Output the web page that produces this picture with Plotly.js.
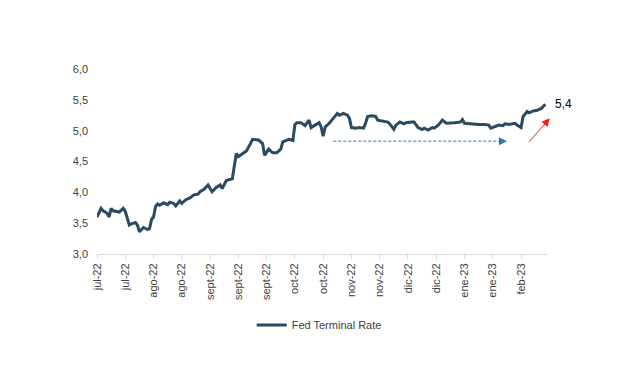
<!DOCTYPE html>
<html>
<head>
<meta charset="utf-8">
<script src="https://cdn.plot.ly/plotly-3.0.1.min.js"></script>
<style>html,body{margin:0;padding:0;background:#fff;}#chart{width:640px;height:380px;}</style>
</head>
<body>
<div id="chart"></div>
<script>
// Fed Terminal Rate
const dates = [
 "2022-07-08","2022-07-10","2022-07-11","2022-07-13","2022-07-14","2022-07-15","2022-07-16","2022-07-18","2022-07-19","2022-07-21",
 "2022-07-22","2022-07-24","2022-07-25","2022-07-27","2022-07-28","2022-07-29","2022-07-31","2022-08-02","2022-08-03","2022-08-04",
 "2022-08-05","2022-08-06","2022-08-07","2022-08-08","2022-08-10","2022-08-12","2022-08-13","2022-08-15","2022-08-16","2022-08-18",
 "2022-08-19","2022-08-21","2022-08-23","2022-08-25","2022-08-27","2022-08-28","2022-08-30","2022-09-01","2022-09-03","2022-09-05",
 "2022-09-07","2022-09-08","2022-09-10","2022-09-13","2022-09-14","2022-09-15","2022-09-16","2022-09-18","2022-09-20","2022-09-22",
 "2022-09-23","2022-09-26","2022-09-28","2022-09-29","2022-10-01","2022-10-03","2022-10-05","2022-10-07","2022-10-08","2022-10-11",
 "2022-10-13","2022-10-14","2022-10-15","2022-10-17","2022-10-19","2022-10-21","2022-10-22","2022-10-25","2022-10-26","2022-10-27",
 "2022-10-28","2022-10-29","2022-10-31","2022-11-02","2022-11-04","2022-11-05","2022-11-07","2022-11-09","2022-11-10","2022-11-11",
 "2022-11-13","2022-11-15","2022-11-17","2022-11-18","2022-11-19","2022-11-21","2022-11-23","2022-11-24","2022-11-26","2022-11-28",
 "2022-11-29","2022-11-30","2022-12-02","2022-12-03","2022-12-05","2022-12-07","2022-12-08","2022-12-11","2022-12-12","2022-12-14",
 "2022-12-16","2022-12-17","2022-12-19","2022-12-21","2022-12-22","2022-12-24","2022-12-26","2022-12-28","2022-12-30","2023-01-01",
 "2023-01-04","2023-01-05","2023-01-06","2023-01-09","2023-01-13","2023-01-16","2023-01-18","2023-01-19","2023-01-21","2023-01-23",
 "2023-01-25","2023-01-26","2023-01-28","2023-01-31","2023-02-01","2023-02-03","2023-02-04","2023-02-06","2023-02-07","2023-02-09",
 "2023-02-11","2023-02-13","2023-02-15"
];
const fedTerminalRate = [
 3.60,3.74,3.70,3.66,3.60,3.74,3.70,3.68,3.68,3.74,
 3.69,3.47,3.49,3.51,3.47,3.36,3.43,3.40,3.41,3.56,
 3.60,3.77,3.81,3.79,3.83,3.80,3.84,3.82,3.78,3.86,
 3.82,3.88,3.91,3.96,3.97,4.01,4.05,4.12,4.01,4.08,
 4.12,4.06,4.19,4.22,4.47,4.63,4.58,4.62,4.67,4.79,
 4.86,4.85,4.79,4.60,4.70,4.64,4.64,4.70,4.82,4.86,
 4.84,5.10,5.13,5.13,5.08,5.17,5.05,5.11,5.13,5.06,
 4.91,5.06,5.12,5.20,5.28,5.25,5.28,5.25,5.20,5.05,
 5.04,5.05,5.04,5.12,5.23,5.24,5.23,5.17,5.16,5.14,
 5.14,5.11,5.02,5.09,5.14,5.11,5.13,5.14,5.14,5.05,
 5.02,5.04,5.01,5.05,5.04,5.09,5.17,5.12,5.13,5.13,
 5.14,5.18,5.12,5.11,5.10,5.10,5.09,5.04,5.07,5.09,
 5.08,5.11,5.10,5.12,5.09,5.05,5.23,5.31,5.29,5.32,
 5.33,5.36,5.43
];
const tickDates = ["2022-07-08","2022-07-22","2022-08-05","2022-08-19","2022-09-02","2022-09-16","2022-09-30","2022-10-14",
 "2022-10-28","2022-11-11","2022-11-25","2022-12-09","2022-12-23","2023-01-06","2023-01-20","2023-02-03"];
const tickLabels = ["jul-22","jul-22","ago-22","ago-22","sept-22","sept-22","sept-22","oct-22",
 "oct-22","nov-22","nov-22","dic-22","dic-22","ene-23","ene-23","feb-23"];
const seriesName = "Fed Terminal Rate";
const lastLabel = "5,4";

const lastDate = dates[dates.length-1];
const lastVal = fedTerminalRate[fedTerminalRate.length-1];

const font = "Liberation Sans, Arial, sans-serif";
const trace = {
  x: dates, y: fedTerminalRate, type: "scatter", mode: "lines", name: seriesName,
  line: {color: "#2B4A5F", width: 3}, cliponaxis: false
};

const layout = {
  width: 640, height: 380,
  margin: {l: 97, r: 92, t: 69, b: 126},
  paper_bgcolor: "#fff", plot_bgcolor: "#fff",
  separators: ", ",
  font: {family: font, size: 11, color: "#404040"},
  showlegend: true,
  legend: {orientation: "h", x: 0.343, xanchor: "left", y: -0.384, yanchor: "middle",
           font: {family: font, size: 11, color: "#404040"}, bgcolor: "rgba(0,0,0,0)"},
  xaxis: {
    type: "date", range: ["2022-07-08", "2023-02-16 08:00"],
    tickmode: "array", tickvals: tickDates, ticktext: tickLabels, tickangle: -90,
    showgrid: false, zeroline: false, showline: true, linecolor: "#D9D9D9", linewidth: 1,
    ticks: "outside", ticklen: 4, tickcolor: "#D9D9D9",
    tickfont: {family: font, size: 11, color: "#404040"}
  },
  yaxis: {
    range: [3, 6], dtick: 0.5, tick0: 3, tickformat: ".1f",
    showgrid: false, zeroline: false, showline: false, ticks: "",
    ticklabelstandoff: 8,
    tickfont: {family: font, size: 11, color: "#404040"}
  },
  shapes: [
    {type: "line", xref: "x", yref: "y", x0: "2022-11-02", x1: "2023-01-25", y0: 4.83, y1: 4.83,
     line: {color: "#2E75B6", width: 1, dash: "3px,2px"}}
  ],
  annotations: [
    {x: "2023-01-27", y: 4.83, xref: "x", yref: "y", ax: -8, ay: 0, text: "", showarrow: true,
     arrowhead: 2, arrowsize: 1.6, arrowwidth: 1, arrowcolor: "#2E75B6"},
    {x: 1.004, y: 5.20, xref: "paper", yref: "y", ax: -22, ay: 25, text: "", showarrow: true,
     arrowhead: 2, arrowsize: 1.6, arrowwidth: 1, arrowcolor: "#F02020"},
    {x: lastDate, y: lastVal, xref: "x", yref: "y", text: lastLabel, showarrow: false,
     xanchor: "left", xshift: 8, yanchor: "middle", font: {family: font, size: 12, color: "#000"}}
  ]
};

Plotly.newPlot("chart", [trace], layout, {staticPlot: true, displayModeBar: false});
</script>
</body>
</html>
